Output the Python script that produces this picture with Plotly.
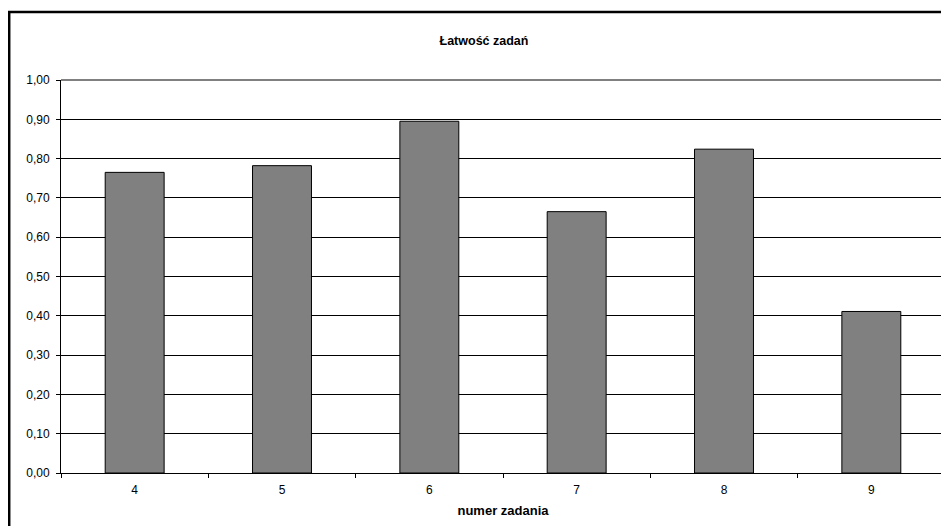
import plotly.graph_objects as go

categories = ["4", "5", "6", "7", "8", "9"]
values = [0.765, 0.782, 0.895, 0.665, 0.824, 0.411]
y_ticks = [0.0, 0.1, 0.2, 0.3, 0.4, 0.5, 0.6, 0.7, 0.8, 0.9, 1.0]

FONT = "Liberation Sans, Arial, sans-serif"

fig = go.Figure()
fig.add_trace(go.Bar(
    x=categories, y=values,
    marker=dict(color="#808080", line=dict(color="#000000", width=1)),
    width=0.4,
))

# page has an 8px body margin; figure sized to fit the window
OFF = 8
W, H = 949 - OFF, 526 - OFF
L, R, T, B = 61 - OFF, 4, 80 - OFF, 53
pw = W - L - R
ph = H - T - B

fig.update_layout(
    width=W, height=H,
    margin=dict(l=L, r=R, t=T, b=B, pad=0),
    paper_bgcolor="white", plot_bgcolor="white",
    separators=", ",
    showlegend=False,
    font=dict(family=FONT, size=12, color="black"),
    title=dict(text="<b>Łatwość zadań</b>", xref="container", yref="container",
               x=(484 - OFF) / W, y=1 - (41 - OFF) / H, xanchor="center", yanchor="middle",
               font=dict(family=FONT, size=12.5, color="black")),
    xaxis=dict(
        type="category", range=[-0.5, 5.5],
        showline=True, linecolor="black", linewidth=1,
        ticks="outside", ticklen=4, tickcolor="black", tickson="boundaries",
        showgrid=False,
        tickfont=dict(family=FONT, size=12, color="black"),
        ticklabelstandoff=6,
        title=dict(text="<b>numer zadania</b>", standoff=9,
                   font=dict(family=FONT, size=13, color="black")),
    ),
    yaxis=dict(
        range=[0, 1.0], tickvals=y_ticks, tickformat=".2f",
        showline=True, linecolor="black", linewidth=1,
        ticks="outside", ticklen=4, tickcolor="black",
        showgrid=True, gridcolor="black", gridwidth=1,
        zeroline=False,
        tickfont=dict(family=FONT, size=12, color="black"),
        ticklabelstandoff=4,
    ),
    shapes=[
        # plot area border (top and right gray)
        dict(type="line", xref="paper", yref="paper", x0=0, x1=1, y0=1, y1=1,
             line=dict(color="#808080", width=2), layer="above"),
        dict(type="line", xref="paper", yref="paper", x0=1, x1=1, y0=0, y1=1,
             line=dict(color="#808080", width=2), layer="above"),
        # outer chart border
        dict(type="rect", xref="paper", yref="paper",
             x0=(1.2 - L) / pw, x1=(W + 10 - L) / pw,
             y0=-(B + 10) / ph, y1=(H - B - (12 - OFF)) / ph,
             line=dict(color="black", width=2.5), fillcolor="rgba(0,0,0,0)",
             layer="above"),
    ],
)

fig.write_html("out.html")
